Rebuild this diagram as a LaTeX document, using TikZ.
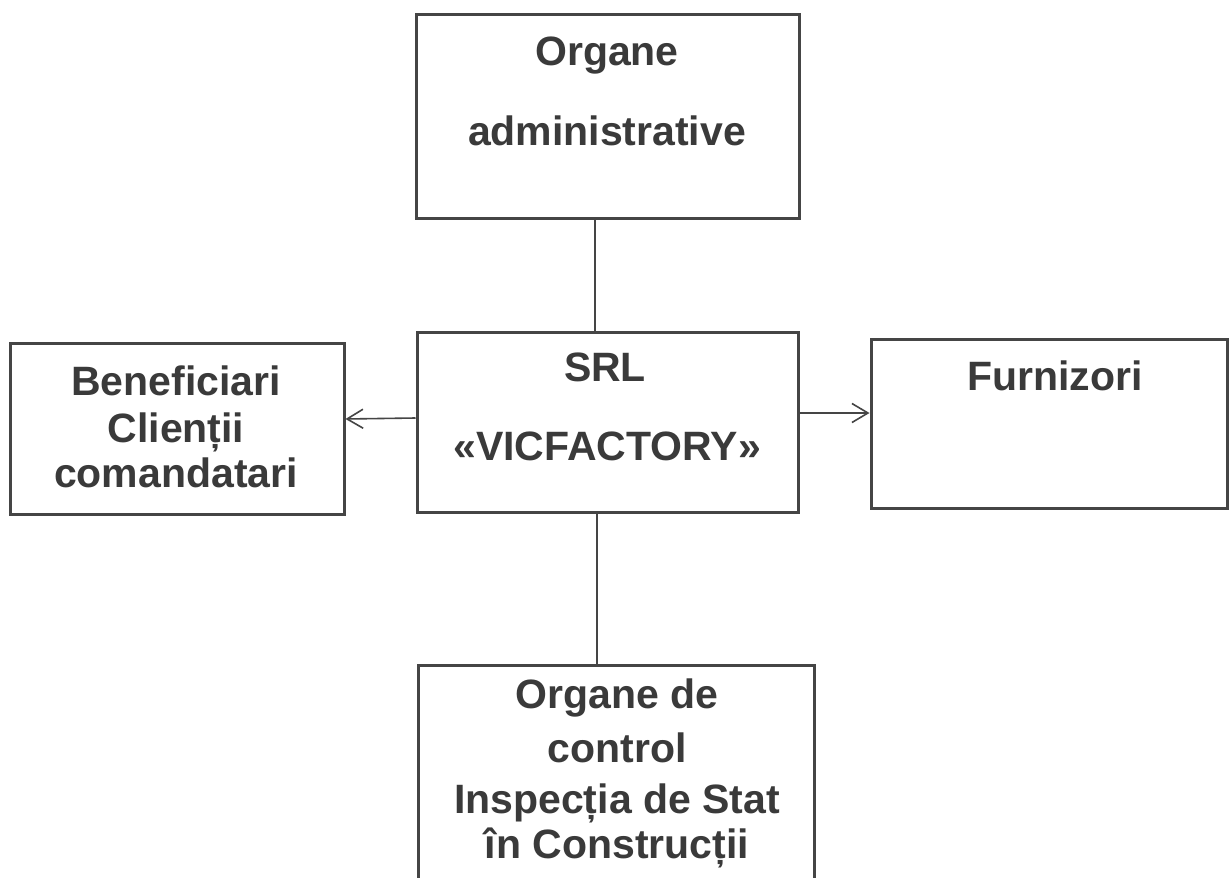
\documentclass[tikz,border=0pt]{standalone}
\usepackage{fontspec}
\setmainfont{Liberation Sans}
\usetikzlibrary{arrows.meta}
\definecolor{ink}{HTML}{3A3A3A}
\definecolor{edge}{HTML}{454545}
\tikzset{
  box/.style={draw=edge, line width=3pt, rectangle, inner sep=0pt},
  lbl/.style={anchor=base, inner sep=0pt, text=ink, font=\fontsize{41}{49}\selectfont\bfseries},
  conn/.style={draw=edge, line width=1.6pt},
  arr/.style={conn, -{Straight Barb[length=16pt,width=19pt,line width=1.6pt]}}
}
\begin{document}
\begin{tikzpicture}[x=1pt,y=-1pt]
\useasboundingbox (0,0) rectangle (1229,878);
\clip (0,0) rectangle (1229,878);
\fill[white] (0,0) rectangle (1229,878);
% boxes
\node[box, minimum width=383pt, minimum height=204pt] (top) at (607.5,116) {};
\node[box, minimum width=381pt, minimum height=180pt] (srl) at (607.5,422) {};
\node[box, minimum width=334pt, minimum height=171pt] (ben) at (177,428.5) {};
\node[box, minimum width=356pt, minimum height=169pt] (fur) at (1049,423.5) {};
\node[box, minimum width=396pt, minimum height=260pt] (bot) at (616,795) {};
% texts
\node[lbl] (t1) at (607,65) {Organe};
\node[lbl] (t2) at (607,145) {administrative};
\node[lbl] (s1) at (605,381) {SRL};
\node[lbl] (s2) at (607,460) {«VICFACTORY»};
\node[lbl] (b1) at (176,395) {Beneficiari};
\node[lbl] (b2) at (176,442) {Clienții};
\node[lbl] (b3) at (176,487) {comandatari};
\node[lbl] (f1) at (1055,390) {Furnizori};
\node[lbl] (c1) at (617,708) {Organe de};
\node[lbl] (c2) at (617,762) {control};
\node[lbl] (c3) at (617,813) {Inspecția de Stat};
\node[lbl] (c4) at (617,858) {în Construcții};
% connectors
\draw[conn] ([xshift=-12.5pt]top.south) -- ([xshift=-12.5pt]srl.north);
\draw[conn] ([xshift=-10.5pt]srl.south) -- ([xshift=-19pt]bot.north);
\draw[arr] ([yshift=4pt]srl.west) -- ([yshift=9.5pt]ben.east);
\draw[arr] ([yshift=9pt]srl.east) -- ([yshift=10.5pt]fur.west);
\end{tikzpicture}
\end{document}
